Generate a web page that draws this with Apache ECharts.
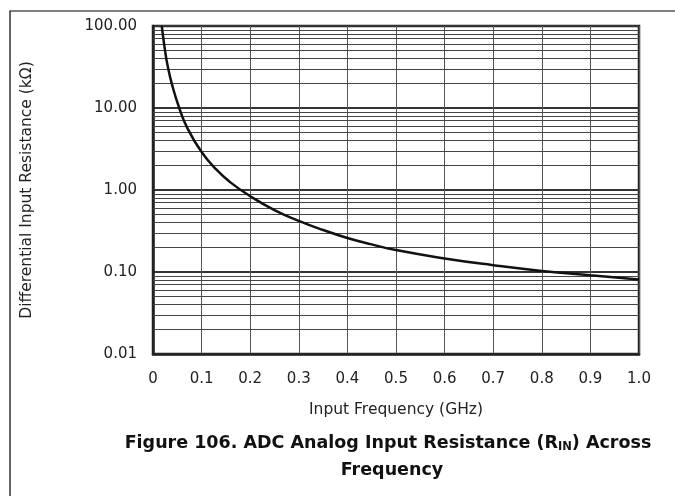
<!DOCTYPE html>
<html lang="en">
<head>
  <meta charset="UTF-8">
  <title>ADC Analog Input Resistance</title>
  <script src="https://cdn.jsdelivr.net/npm/echarts@6/dist/echarts.min.js"></script>
  <style>
    body { margin: 0; background: #fff; }
    #main { width: 675px; height: 496px; }
  </style>
</head>
<body>
  <div id="main"></div>
  <script>
    // frequency (GHz) vs differential input resistance (kOhm)
    var freq = [0.018, 0.025, 0.03, 0.04, 0.054, 0.07, 0.1, 0.13, 0.16, 0.2, 0.25, 0.3, 0.35, 0.4, 0.45, 0.5, 0.6, 0.7, 0.8, 0.9, 1.0];
    var rin  = [100, 49, 33, 18.5, 10.0, 5.8, 2.9, 1.78, 1.23, 0.84, 0.57, 0.42, 0.325, 0.26, 0.217, 0.185, 0.146, 0.121, 0.103, 0.091, 0.081];

    // minor log grid lines (2..9 in every decade)
    var decades = [0.01, 0.1, 1, 10];
    var minorSteps = [2, 3, 4, 5, 6, 7, 8, 9];
    var minorLines = [];
    decades.forEach(function (d) {
      minorSteps.forEach(function (m) { minorLines.push(+(d * m).toPrecision(3)); });
    });

    var chart = echarts.init(document.getElementById('main'));
    var font = 'DejaVu Sans, Liberation Sans, sans-serif';

    var option = {
      animation: false,
      grid: {
        left: 153, right: 36, top: 26, bottom: 142,
        show: true,
        borderColor: '#222',
        borderWidth: 2.5
      },
      graphic: [{
        type: 'rect',
        shape: { x: 10, y: 11, width: 700, height: 520 },
        style: { fill: 'none', stroke: '#000', lineWidth: 1.2 },
        silent: true
      }, {
        type: 'text',
        x: 388,
        y: 443,
        style: {
          text: '{b|Figure 106. ADC Analog Input Resistance (R}{s|IN}{b|) Across}',
          align: 'center',
          verticalAlign: 'middle',
          rich: {
            b: { fontFamily: font, fontSize: 17.5, fontWeight: 'bold', fill: '#111' },
            s: { fontFamily: font, fontSize: 11.5, fontWeight: 'bold', fill: '#111', padding: [9, 0, 0, 0] }
          }
        }
      }, {
        type: 'text',
        x: 392,
        y: 470,
        style: {
          text: 'Frequency',
          align: 'center',
          verticalAlign: 'middle',
          fontFamily: font,
          fontSize: 17.5,
          fontWeight: 'bold',
          fill: '#111'
        }
      }],
      xAxis: {
        type: 'value',
        min: 0,
        max: 1,
        interval: 0.1,
        name: 'Input Frequency (GHz)',
        nameLocation: 'middle',
        nameGap: 48,
        nameTextStyle: { fontFamily: font, fontSize: 15.5, color: '#222' },
        axisLine: { show: true, lineStyle: { color: '#222', width: 2.5 } },
        axisTick: { show: false },
        axisLabel: {
          margin: 18,
          fontFamily: font,
          fontSize: 15,
          color: '#222',
          formatter: function (v) { return v === 0 ? '0' : v.toFixed(1); }
        },
        splitLine: { show: true, lineStyle: { color: '#555', width: 1 } }
      },
      yAxis: {
        type: 'log',
        logBase: 10,
        min: 0.01,
        max: 100,
        name: 'Differential Input Resistance (k\u03A9)',
        nameLocation: 'middle',
        nameGap: 118,
        nameTextStyle: { fontFamily: font, fontSize: 15.5, color: '#222' },
        axisLine: { show: true, lineStyle: { color: '#222', width: 2.5 } },
        axisTick: { show: false },
        axisLabel: {
          margin: 16,
          fontFamily: font,
          fontSize: 15,
          color: '#222',
          formatter: function (v) { return v.toFixed(2); }
        },
        splitLine: { show: true, lineStyle: { color: '#333', width: 2 } }
      },
      series: [{
        type: 'line',
        data: [],
        silent: true,
        markLine: {
          silent: true,
          symbol: 'none',
          label: { show: false },
          lineStyle: { color: '#444', width: 1, type: 'solid' },
          data: minorLines.map(function (v) { return { yAxis: v }; })
        }
      }, {
        type: 'line',
        data: freq.map(function (f, i) { return [f, rin[i]]; }),
        smooth: 0.5,
        showSymbol: false,
        lineStyle: { color: '#111', width: 2.5 },
        z: 5
      }]
    };

    chart.setOption(option);
  </script>
</body>
</html>
